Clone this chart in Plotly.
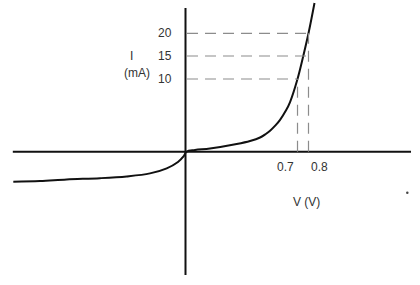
import plotly.graph_objects as go

# Diode I-V characteristic (schematic units: x in "V-axis units", y in "I-axis units")
curve_x = [-1.120, -0.946, -0.773, -0.556, -0.382, -0.231, -0.122, -0.049, -0.013,
           0.0065, 0.062, 0.159, 0.333, 0.420, 0.485, 0.520, 0.550, 0.585, 0.615, 0.654, 0.680,
           0.7285, 0.766, 0.800, 0.839]
curve_y = [-5.08, -4.96, -4.69, -4.48, -4.18, -3.67, -2.81, -1.74, -0.81,
           0.0, 0.29, 0.54, 1.30, 1.81, 2.40, 2.95, 3.55, 4.45, 5.40, 7.00, 8.40,
           12.30, 16.19, 20.03, 25.16]

# tick marks on the diagram (position on axis, label)
v_tick_pos = [0.7285, 0.800]
v_tick_text = ["0.7", "0.8"]
i_tick_pos = [20.03, 16.19, 12.30]
i_tick_text = ["20", "15", "10"]
# where each current guide line ends (x position)
i_guide_end = [0.800, 0.800, 0.7285]

x_range = [-1.2065, 1.5252]
y_range = [-22.554, 25.668]

fig = go.Figure()

fig.add_trace(go.Scatter(x=curve_x, y=curve_y, mode="lines",
                         line=dict(color="#111111", width=2, shape="spline", smoothing=1.0),
                         hoverinfo="skip", showlegend=False))

# tiny dot at right
fig.add_trace(go.Scatter(x=[1.4426], y=[-6.94], mode="markers",
                         marker=dict(color="#444444", size=2.5), showlegend=False, hoverinfo="skip"))

shapes = []
# main axes
shapes.append(dict(type="line", x0=-1.1232, x1=1.4667, y0=0, y1=0,
                   line=dict(color="#111111", width=2)))
shapes.append(dict(type="line", x0=0, x1=0, y0=24.31, y1=-20.86,
                   line=dict(color="#111111", width=2)))
dash = "11px,7px"
for yv, xe in zip(i_tick_pos, i_guide_end):
    shapes.append(dict(type="line", x0=0.0098, x1=xe, y0=yv, y1=yv,
                       line=dict(color="#8c8c8c", width=1.2, dash=dash)))
for xv, ye in zip(v_tick_pos, [12.30, 20.03]):
    shapes.append(dict(type="line", x0=xv, x1=xv, y0=0, y1=ye,
                       line=dict(color="#8c8c8c", width=1.2, dash=dash)))

font = dict(family="Liberation Sans, Arial, sans-serif", size=12, color="#333333")
ann = []
for yv, t in zip(i_tick_pos, i_tick_text):
    ann.append(dict(x=-0.0748, y=yv, text=t, xanchor="right", yanchor="middle",
                    showarrow=False, font=font))
ann.append(dict(x=-0.350, y=16.24, text="I", xanchor="center", yanchor="middle",
                showarrow=False, font=font))
ann.append(dict(x=-0.3174, y=13.37, text="(mA)", xanchor="center", yanchor="middle",
                showarrow=False, font=font))
for xv, t, xa in zip(v_tick_pos, v_tick_text, ["right", "left"]):
    ann.append(dict(x=xv + (-0.008 if xa == "right" else 0.006), y=-2.54, text=t,
                    xanchor=xa, yanchor="middle", showarrow=False, font=font))
ann.append(dict(x=0.787, y=-8.46, text="V (V)", xanchor="center", yanchor="middle",
                showarrow=False, font=font))

fig.update_layout(
    width=420, height=285,
    margin=dict(l=0, r=0, t=0, b=0),
    paper_bgcolor="white", plot_bgcolor="white",
    xaxis=dict(range=x_range, visible=False, fixedrange=True),
    yaxis=dict(range=y_range, visible=False, fixedrange=True),
    shapes=shapes, annotations=ann,
)

fig.write_html("out.html")
